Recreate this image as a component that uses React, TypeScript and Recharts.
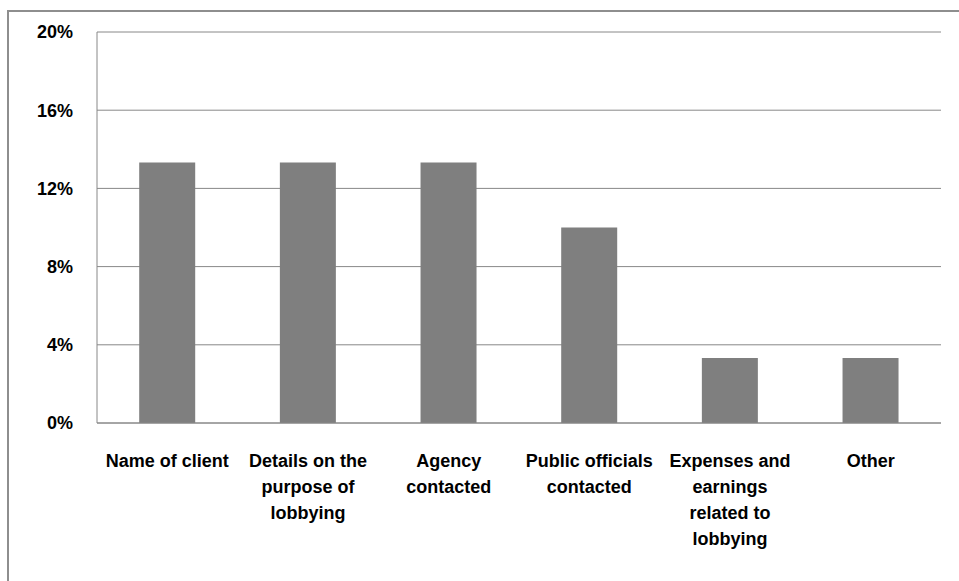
import React from "react";
import { BarChart, Bar, XAxis, YAxis, CartesianGrid } from "recharts";

const categories = [
  "Name of client",
  "Details on the\npurpose of\nlobbying",
  "Agency\ncontacted",
  "Public officials\ncontacted",
  "Expenses and\nearnings\nrelated to\nlobbying",
  "Other",
];
const shares = [13.33, 13.33, 13.33, 10, 3.33, 3.33];
const yTicks = [0, 4, 8, 12, 16, 20];

const data = categories.map((name, i) => ({ name, value: shares[i] }));

const FONT = '"Liberation Sans", Arial, sans-serif';

const CategoryTick = ({ x, y, payload }: any) => {
  const lines = String(payload.value).split("\n");
  return (
    <text x={x} y={y} textAnchor="middle" fontFamily={FONT} fontSize={18} fontWeight="bold" fill="#000">
      {lines.map((l, i) => (
        <tspan key={i} x={x} dy={i === 0 ? 36 : 26}>{l}</tspan>
      ))}
    </text>
  );
};

export default function App() {
  return (
    <div style={{ position: "absolute", left: 0, top: 0, width: 959, height: 581, background: "white" }}>
      {/* frame, only top and left edges show in the crop */}
      <div style={{
        position: "absolute", left: 7, top: 10, width: 952, height: 571,
        borderTop: "2px solid #8e8e8e", borderLeft: "2px solid #8e8e8e", boxSizing: "border-box",
      }} />
      <div style={{ position: "absolute", left: 0, top: 0 }}>
        <BarChart width={959} height={581} data={data}
          margin={{ top: 32, right: 18, left: 0, bottom: 58 }} barCategoryGap="30%">
          <CartesianGrid vertical={false} stroke="#888" strokeWidth={1} />
          <XAxis dataKey="name" interval={0} height={100} tickLine={false}
            axisLine={{ stroke: "#888" }} tick={<CategoryTick />} />
          <YAxis width={97} domain={[0, 20]} ticks={yTicks} tickFormatter={(v) => `${v}%`}
            tickLine={false} tickSize={0} tickMargin={24} axisLine={{ stroke: "#888" }}
            tick={{ fontFamily: FONT, fontSize: 18, fontWeight: "bold", fill: "#000" }} />
          <Bar dataKey="value" fill="#7f7f7f" isAnimationActive={false} />
        </BarChart>
      </div>
    </div>
  );
}
